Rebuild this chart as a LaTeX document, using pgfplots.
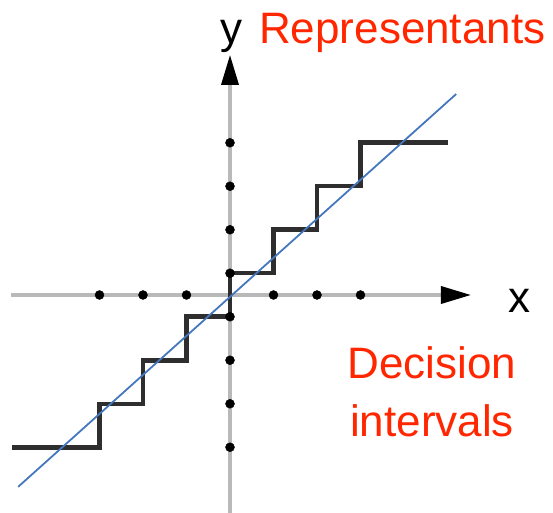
\documentclass[border=0pt]{standalone}
\usepackage{fontspec}
\setmainfont{Liberation Sans}
\usepackage{pgfplots}
\pgfplotsset{compat=1.18}
\usetikzlibrary{arrows.meta}
\definecolor{appred}{RGB}{255,38,0}
\definecolor{lineblue}{RGB}{68,119,189}
\definecolor{axgray}{RGB}{185,185,185}
\begin{document}
\begin{tikzpicture}
\begin{axis}[
  anchor=origin, at={(0,0)},
  x=43.5bp, y=43.5bp,
  xmin=-5.03, xmax=5.54, ymin=-5.02, ymax=5.52,
  axis lines=middle,
  axis line style={draw=axgray, line width=3.5bp, -{Triangle[length=30bp,width=17bp,color=black]}},
  xtick=\empty, ytick=\empty,
  clip=false,
]
% staircase quantizer
\addplot[draw=black!82, line width=4.5bp, line join=miter] coordinates {
  (-5,-3.5) (-3,-3.5) (-3,-2.5) (-2,-2.5) (-2,-1.5) (-1,-1.5) (-1,-0.5)
  (0,-0.5) (0,0.5) (1,0.5) (1,1.5) (2,1.5) (2,2.5) (3,2.5) (3,3.5) (5,3.5)
};
% decision interval boundaries
\addplot[only marks, mark=*, mark size=4.5bp, black] coordinates {
  (-3,0) (-2,0) (-1,0) (1,0) (2,0) (3,0)
};
% representants
\addplot[only marks, mark=*, mark size=4.5bp, black] coordinates {
  (0,-3.5) (0,-2.5) (0,-1.5) (0,-0.5) (0,0.5) (0,1.5) (0,2.5) (0,3.5)
};
% identity-like line
\addplot[draw=lineblue, line width=1.8bp] coordinates {
  (-4.87,-4.41) (5.20,4.62)
};
\end{axis}
\fontsize{44bp}{52bp}\selectfont
\node[anchor=base, inner sep=0pt] at (1bp,251bp) {y};
\node[anchor=base west, inner sep=0pt, text=appred] at (29bp,251bp) {Representants};
\node[anchor=base, inner sep=0pt] at (289bp,-17bp) {x};
\node[anchor=base, inner sep=0pt, text=appred] at (202bp,-83bp) {Decision};
\node[anchor=base, inner sep=0pt, text=appred] at (202bp,-141bp) {intervals};
\pgfresetboundingbox
\useasboundingbox (-230bp,-218bp) rectangle (323bp,295bp);
\end{tikzpicture}
\end{document}
